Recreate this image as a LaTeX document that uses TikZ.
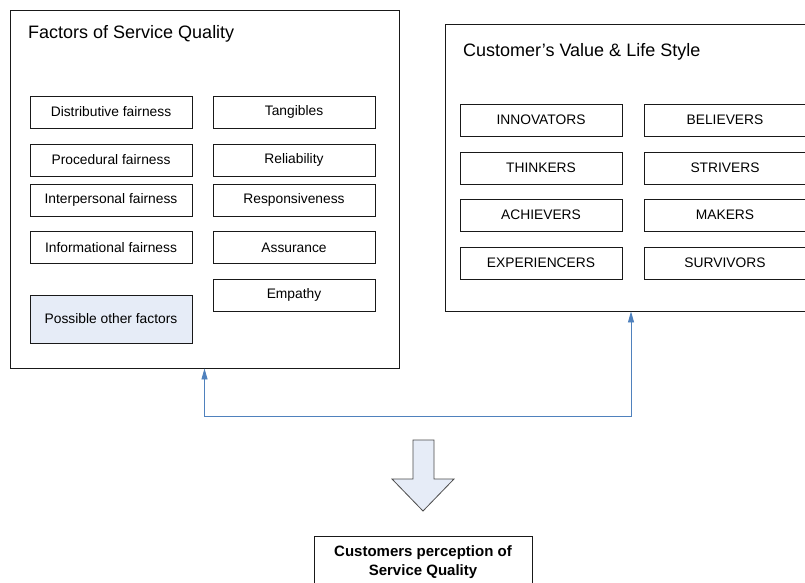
\documentclass[tikz,border=0pt]{standalone}
\usepackage{fontspec}
\setmainfont{Liberation Sans}
\usetikzlibrary{arrows.meta}
\definecolor{linkblue}{RGB}{79,129,189}
\definecolor{paleblue}{RGB}{230,236,247}
\begin{document}
\begin{tikzpicture}[x=1pt,y=-1pt,
  outerbox/.style={draw=black!90, line width=0.9pt, minimum width=#1, inner sep=0pt},
  itembox/.style={draw=black!90, line width=0.9pt, minimum width=162pt, minimum height=32pt, inner sep=0pt, font=\fontsize{13.8}{16}\selectfont},
  titletext/.style={anchor=west, inner sep=0pt, font=\fontsize{18}{21}\selectfont},
  linkarrow/.style={draw=linkblue, line width=0.9pt, {Triangle[width=6pt,length=11pt]}-{Triangle[width=6pt,length=11pt]}}
]
\useasboundingbox (0,0) rectangle (805,583);
\clip (0,0) rectangle (805,583);
\fill[white] (0,0) rectangle (805,583);

% outer boxes
\node[outerbox=389pt, minimum height=358pt] (fsq) at (204.5,189) {};
\node[outerbox=372pt, minimum height=287pt] (cvl) at (631,167.5) {};

\node[titletext] (fsqt) at (28,34) {Factors of Service Quality};
\node[titletext] (cvlt) at (463,52) {Customer’s Value \& Life Style};

% left group
\node[itembox] (df) at (111,112) {Distributive fairness};
\node[itembox] (pf) at (111,160) {Procedural fairness};
\node[itembox] (ipf) at (111,200) {Interpersonal fairness};
\node[itembox] (inf) at (111,247.5) {Informational fairness};
\node[itembox, fill=paleblue, minimum height=48pt] (pof) at (111,319) {Possible other factors};
\node[itembox] (tan) at (294,112) {Tangibles};
\node[itembox] (rel) at (294,160) {Reliability};
\node[itembox] (res) at (294,200) {Responsiveness};
\node[itembox] (ass) at (294,247.5) {Assurance};
\node[itembox] (emp) at (294,295) {Empathy};

% right group
\node[itembox] (inn) at (541,120) {INNOVATORS};
\node[itembox] (thi) at (541,168) {THINKERS};
\node[itembox] (ach) at (541,215) {ACHIEVERS};
\node[itembox] (exp) at (541,263) {EXPERIENCERS};
\node[itembox] (bel) at (725,120) {BELIEVERS};
\node[itembox] (str) at (725,168) {STRIVERS};
\node[itembox] (mak) at (725,215) {MAKERS};
\node[itembox] (sur) at (725,263) {SURVIVORS};

% link
\draw[linkarrow] (fsq.south) -- ++(0,48) -| (cvl.south);

% block arrow
\draw[draw=black!70, line width=0.8pt, fill=paleblue]
  (413,440) -- (434,440) -- (434,479) -- (454,479) -- (423,511)
  -- (392,479) -- (413,479) -- cycle;

% result
\node[draw=black!90, line width=0.9pt, minimum width=218pt, minimum height=52pt, inner sep=0pt, align=center,
  font=\fontsize{15}{19}\selectfont\bfseries] (cpsq) at (423,562) {Customers perception of\\Service Quality};
\end{tikzpicture}
\end{document}
